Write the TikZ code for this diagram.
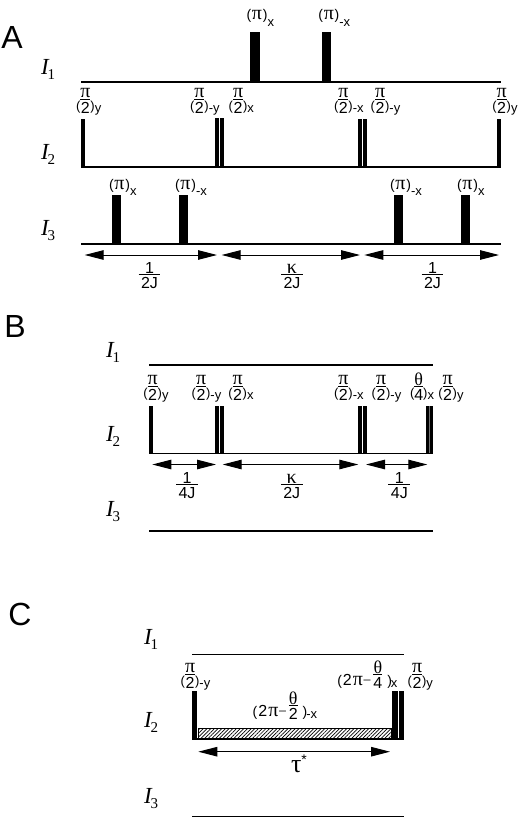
\documentclass[tikz,border=0pt]{standalone}
\usepackage{fontspec}
\setmainfont{Liberation Sans}
\newfontfamily\serf{Liberation Serif}
\usetikzlibrary{arrows.meta,patterns.meta}
\newcommand{\Ppi}{{\serf\fontsize{20bp}{20bp}\selectfont π}}
\newcommand{\Tht}{{\serf\fontsize{18bp}{18bp}\selectfont θ}}
\newcommand{\Kpa}{{\serf\fontsize{20bp}{20bp}\selectfont κ}}
% stacked fraction; its baseline is that of the lower line
\newcommand{\Frc}[3][0bp]{\vbox{\offinterlineskip\halign{\hfil##\hfil\cr #2\cr\noalign{\kern0.6bp\hrule height 0.9bp\kern2.2bp}\kern#1\relax\fontsize{16bp}{16bp}\selectfont #3\kern#1\relax\cr}}}
\newcommand{\SubT}[2]{\raisebox{#1}{\fontsize{13bp}{13bp}\selectfont #2}}
% pulse angle label: (frac)_sub
\newcommand{\PHa}[3]{\fontsize{13bp}{13bp}\selectfont(\raisebox{-2.5bp}{\Frc{#1}{#2}})\SubT{-2.2bp}{#3}}
\newcommand{\PPi}[1]{\fontsize{14bp}{14bp}\selectfont(\kern0.8bp\Ppi\kern0.8bp)\SubT{-6.5bp}{#1}}
\newcommand{\PLong}[3]{\fontsize{14bp}{14bp}\selectfont(\kern1bp{\fontsize{16bp}{16bp}\selectfont 2}\kern1bp\Ppi{\serf\fontsize{15bp}{15bp}\selectfont −}\kern2bp\raisebox{-3bp}{\Frc{#1}{#2}}\kern5bp)\kern-1bp\SubT{-2.2bp}{#3}}
\newcommand{\Spn}[1]{{\serf\fontsize{23bp}{23bp}\selectfont\itshape I\kern-1bp\raisebox{-5bp}{\fontsize{15bp}{15bp}\selectfont\upshape #1}}}
\tikzset{
  x=1bp,y=-1bp,
  lab/.style={inner sep=0pt,outer sep=0pt,anchor=base west},
  ctr/.style={inner sep=0pt,outer sep=0pt,anchor=center},
  fra/.style={inner sep=0pt,outer sep=0pt,anchor=base},
  track/.style={line width=1.5bp,black},
  dimarrow/.style={line width=1bp,{Triangle[length=19bp,width=9.5bp]}-{Triangle[length=19bp,width=9.5bp]}}
}
\newcommand{\pulse}[3]{\fill[black] (#1,#3) rectangle (#2,\ybot);}
\newcommand{\dimarr}[4]{\coordinate (#1a) at (#2,#4); \coordinate (#1b) at (#3,#4); \draw[dimarrow] (#1a) -- (#1b);}
\newcommand{\One}{\fontsize{16bp}{16bp}\selectfont 1}
\begin{document}
\begin{tikzpicture}
\useasboundingbox (0,0) rectangle (518,818);
\fill[white] (0,0) rectangle (518,818);
% Panel letters
\node[ctr] (lA) at (12,37) {\fontsize{32bp}{32bp}\selectfont A};
\node[ctr] (lB) at (15,326) {\fontsize{32bp}{32bp}\selectfont B};
\node[ctr] (lC) at (20,614) {\fontsize{32bp}{32bp}\selectfont C};
% ---------- A
\node[lab] (aI1) at (41,75) {\Spn{1}};
\node[lab] (aI2) at (41,159) {\Spn{2}};
\node[lab] (aI3) at (41,235) {\Spn{3}};
\draw[track] (81,82) -- (501,82);
\draw[track] (81,167) -- (501,167);
\draw[track] (81,244.2) -- (501,244.2);
\def\ybot{82}
\pulse{250.3}{259.7}{32}\pulse{321.7}{331}{32}
\def\ybot{167}
\pulse{81.3}{85.3}{118.5}\pulse{214.7}{219}{117.5}\pulse{220.2}{224.3}{117.5}
\pulse{357.5}{362}{118.5}\pulse{362.9}{367.3}{118.5}\pulse{496.7}{500.7}{118.5}
\def\ybot{244.2}
\pulse{112}{121.3}{195.3}\pulse{178.7}{188}{195.3}\pulse{394}{403.3}{195.3}\pulse{460.7}{470}{195.3}
\node[lab] (ap1) at (246.5,20) {\PPi{x}};
\node[lab] (ap2) at (318.3,20) {\PPi{-x}};
\node[lab] (ap3) at (109,189) {\PPi{x}};
\node[lab] (ap4) at (175,189) {\PPi{-x}};
\node[lab] (ap5) at (390,189) {\PPi{-x}};
\node[lab] (ap6) at (457,189) {\PPi{x}};
\node[lab] (ah1) at (76,110.5) {\PHa{\Ppi}{2}{y}};
\node[lab] (ah2) at (190,110.5) {\PHa{\Ppi}{2}{-y}};
\node[lab] (ah3) at (228.7,110.5) {\PHa{\Ppi}{2}{x}};
\node[lab] (ah4) at (334,110.5) {\PHa{\Ppi}{2}{-x}};
\node[lab] (ah5) at (370.7,110.5) {\PHa{\Ppi}{2}{-y}};
\node[lab] (ah6) at (492.3,110.5) {\PHa{\Ppi}{2}{y}};
\dimarr{aa}{84.7}{217}{255}
\dimarr{ab}{221.7}{360}{255}
\dimarr{ac}{364.3}{499}{255}
\node[fra] (af1) at (149.5,288.7) {\Frc[2.5bp]{\One}{2J}};
\node[fra] (af2) at (292,288.7) {\Frc[2.5bp]{\Kpa}{2J}};
\node[fra] (af3) at (432.5,288.7) {\Frc[2.5bp]{\One}{2J}};
% ---------- B
\node[lab] (bI1) at (106,357) {\Spn{1}};
\node[lab] (bI2) at (106,441) {\Spn{2}};
\node[lab] (bI3) at (106,516) {\Spn{3}};
\draw[track] (149.3,365) -- (432.7,365);
\draw[track] (149.3,453.3) -- (432.7,453.3);
\draw[track] (149.3,531) -- (432.7,531);
\def\ybot{453.3}
\pulse{149.3}{153.3}{406}\pulse{214.7}{219}{406}\pulse{220.2}{224.3}{406}
\pulse{358}{362.3}{406}\pulse{363.3}{367.3}{406}
\pulse{425.7}{428.5}{406}
\fill[black!55] (428.5,406) rectangle (429.7,\ybot);
\pulse{429.7}{433}{406}
\node[lab] (bh1) at (143.3,397.5) {\PHa{\Ppi}{2}{y}};
\node[lab] (bh2) at (191.7,397.5) {\PHa{\Ppi}{2}{-y}};
\node[lab] (bh3) at (228.3,397.5) {\PHa{\Ppi}{2}{x}};
\node[lab] (bh4) at (334,397.5) {\PHa{\Ppi}{2}{-x}};
\node[lab] (bh5) at (371.7,397.5) {\PHa{\Ppi}{2}{-y}};
\node[lab] (bh6) at (410,397.5) {\PHa{\Tht}{4}{x}};
\node[lab] (bh7) at (438.3,397.5) {\PHa{\Ppi}{2}{y}};
\dimarr{ba}{152.3}{216}{464.5}
\dimarr{bb}{222.7}{358.3}{464.5}
\dimarr{bc}{366}{427.3}{464.5}
\node[fra] (bf1) at (187,498) {\Frc[2.5bp]{\One}{4J}};
\node[fra] (bf2) at (291.7,498) {\Frc[2.5bp]{\Kpa}{2J}};
\node[fra] (bf3) at (399.3,498) {\Frc[2.5bp]{\One}{4J}};
% ---------- C
\node[lab] (cI1) at (144,644) {\Spn{1}};
\node[lab] (cI2) at (144,727) {\Spn{2}};
\node[lab] (cI3) at (144,803) {\Spn{3}};
\draw[track] (192.3,654.7) -- (404,654.7);
\draw[track] (192.3,739) -- (404,739);
\draw[track] (192.3,816.7) -- (404,816.7);
\def\ybot{739}
\pulse{192.3}{196.7}{691}\pulse{392.3}{398.3}{691}\pulse{399.3}{404}{691}
\draw[line width=0.8bp,pattern={Lines[angle=45,distance=2.6bp,line width=0.7bp]}] (198.6,728.5) rectangle (391,739);
\node[lab] (ch1) at (180.7,685.5) {\PHa{\Ppi}{2}{-y}};
\node[lab] (ch2) at (407.7,685.5) {\PHa{\Ppi}{2}{y}};
\node[lab] (ch3) at (337.3,685) {\PLong{\Tht}{4}{x}};
\node[lab] (ch4) at (252.7,716.5) {\PLong{\Tht}{2}{-x}};
\dimarr{ca}{198.3}{390}{751.7}
\node[lab] (ct) at (291,772.7) {{\serf\fontsize{26bp}{26bp}\selectfont τ}\raisebox{8bp}{\fontsize{14bp}{14bp}\selectfont *}};
\end{tikzpicture}
\end{document}
